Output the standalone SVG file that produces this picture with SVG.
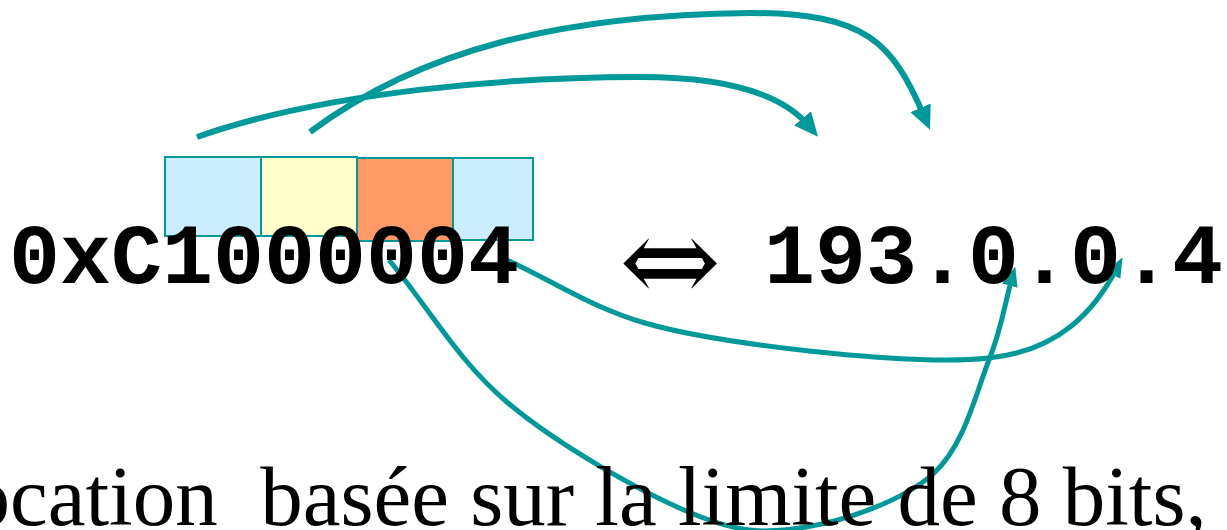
<svg xmlns="http://www.w3.org/2000/svg" width="1227" height="530" viewBox="0 0 1227 530">
<style>
.box{stroke:#009999;stroke-width:2}
.arc{fill:none;stroke:#009999;stroke-linecap:butt}
.big{stroke-width:6;marker-end:url(#headBig)}
.small{stroke-width:5;marker-end:url(#headSmall)}
.mono{font-family:"Liberation Mono","Courier New",monospace;font-weight:bold;font-size:85px;fill:#000}
.serif{font-family:"Liberation Serif","Times New Roman",serif;font-size:85px;fill:#000}
</style>
<defs>
<marker id="headBig" markerUnits="userSpaceOnUse" markerWidth="24" markerHeight="22" refX="10" refY="11" orient="auto">
<path d="M0,0 L24,11 L0,22 z" fill="#009999"/>
</marker>
<marker id="headSmall" markerUnits="userSpaceOnUse" markerWidth="20" markerHeight="16" refX="8" refY="8" orient="auto">
<path d="M0,0 L20,8 L0,16 z" fill="#009999"/>
</marker>
</defs>
<g id="bytes">
<rect id="byte1" class="box" x="165" y="157" width="96" height="79" fill="#CCECFF"/>
<rect id="byte2" class="box" x="261" y="157" width="96" height="79" fill="#FFFFCC"/>
<rect id="byte3" class="box" x="357" y="158" width="96" height="83" fill="#FF9966"/>
<rect id="byte4" class="box" x="453" y="158" width="80" height="82" fill="#CCECFF"/>
</g>
<g id="connectors">
<path class="arc big" d="M197,137 C330,90 520,77 640,77 C722,77 781,92.7 809,126"/>
<path class="arc big" d="M310,132 C420,50 560,15 750,13 C866.6,13 892.6,42.6 924.5,117"/>
<path class="arc small" d="M389,260 C429,308 457.7,360.8 508,403 C558.3,445.2 641.3,492.3 691,513 C740.7,533.7 765.5,533.7 806,527 C846.5,520.3 903.5,500.8 934,473 C964.5,445.2 976,392.5 989,360 C1002,327.5 1004.3,305.3 1012,278"/>
<path class="arc small" d="M507,260 C553,281 591.3,307.5 645,323 C698.7,338.5 771.7,347.2 829,353 C886.3,358.8 948.5,362.3 989,358 C1060,350.5 1095,310 1117,268"/>
</g>
<g id="hex">
<text class="mono" x="9" y="283">0xC1000004</text>
</g>
<g id="equiv">
<text x="670" y="303" text-anchor="middle" style="font-family:'DejaVu Serif','DejaVu Sans',serif;font-size:122px;fill:#000">⇔</text>
</g>
<g id="ip">
<text class="mono" x="764" y="283">193.0.0.4</text>
</g>
<g id="caption">
<text class="serif" x="-32.5" y="525" xml:space="preserve">ocation  basée sur la limite de 8 bits,</text>
</g>
</svg>
